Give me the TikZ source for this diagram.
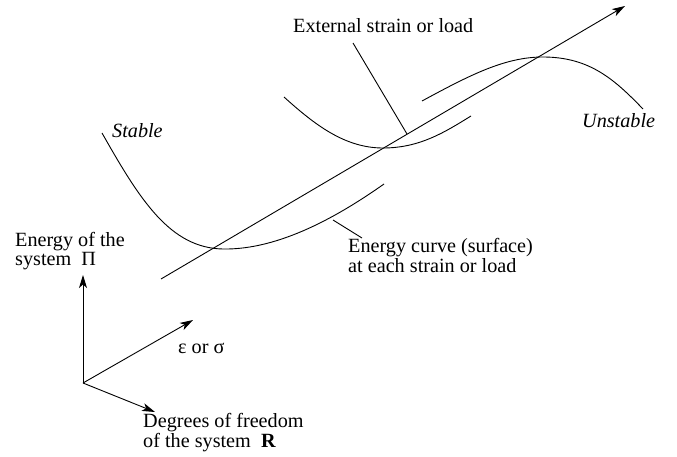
\documentclass[tikz,border=0pt]{standalone}
\usepackage{fontspec}
\setmainfont{Liberation Serif}
\usetikzlibrary{arrows.meta}
\begin{document}
\begin{tikzpicture}[x=1pt,y=-1pt,
  curve/.style={line width=0.9pt},
  axisarrow/.style={line width=0.9pt,-{Stealth[length=13pt,width=8pt,inset=3.5pt]}},
  lbl/.style={inner sep=0pt,anchor=base west,align=left,font=\fontsize{20.2}{17}\selectfont}]
\useasboundingbox (0,0) rectangle (677,457);
% main load axis
\coordinate (m0) at (161,279);
\coordinate (m1) at (625,6);
\draw[axisarrow] (m0) -- (m1);
% energy curves
\draw[curve] (102,133) .. controls (140,200) and (170,248) .. (223,249) .. controls (280,250) and (340,215) .. (384,184);
\draw[curve] (284,97) .. controls (315,125) and (345,148) .. (383,148) .. controls (420,148) and (445,132) .. (471,116);
\draw[curve] (422,101) .. controls (470,75) and (505,57) .. (543,57) .. controls (590,57) and (615,80) .. (643,109);
% labels
\node[lbl,font=\fontsize{20.2}{17}\selectfont\itshape] (stable) at (112,138) {Stable};
\node[lbl,font=\fontsize{20.2}{17}\selectfont\itshape] (unstable) at (582,128) {Unstable};
\node[lbl] (ext) at (293,33) {External strain or load};
\node[lbl,font=\fontsize{20.2}{15.5}\selectfont] (ecurve) at (348,272) {Energy curve (surface)\\at each strain or load};
\coordinate (c1a) at (353,43);
\coordinate (c1b) at (407,134);
\draw[curve] (c1a) -- (c1b);
\coordinate (c2a) at (333,220);
\coordinate (c2b) at (362,238);
\draw[curve] (c2a) -- (c2b);
% coordinate axes
\coordinate (o) at (83,383);
\coordinate (up) at (83,275);
\coordinate (diag) at (193,320);
\coordinate (low) at (155,412);
\draw[axisarrow] (o) -- (up);
\draw[axisarrow] (o) -- (diag);
\draw[axisarrow] (o) -- (low);
\node[lbl] (energy) at (15,265) {Energy of the\\system\ \ Π};
\node[lbl] (eps) at (178,353) {ε or σ};
\node[lbl] (dof) at (143,447) {Degrees of freedom\\of the system\ \ \textbf{R}};
\end{tikzpicture}
\end{document}
